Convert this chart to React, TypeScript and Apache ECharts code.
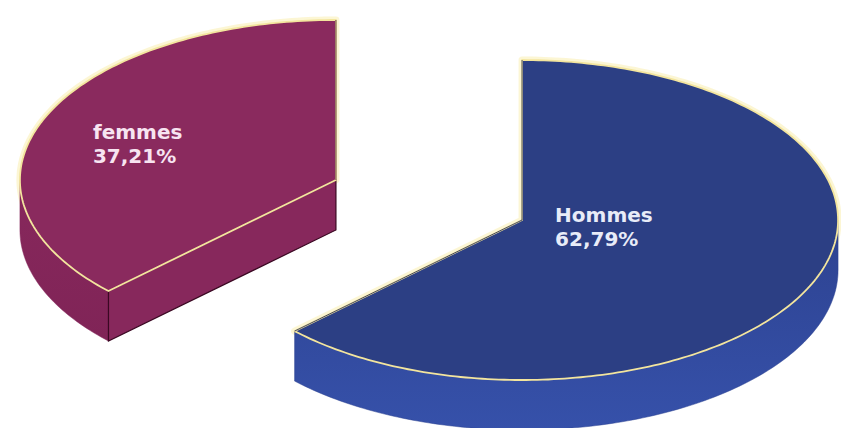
import React, { useEffect, useRef } from 'react';
import * as echarts from 'echarts';

// ---- data ----
const categories: string[] = ['Hommes', 'femmes'];
const values: number[] = [62.79, 37.21];

// ---- styles ----
const topColors = ['#2C3F84', '#8A2A5E'];
const sideTopColors = ['#2D4290', '#87285C'];
const sideBottomColors = ['#3651AA', '#802457'];
const edgeColors = ['#1B2455', '#3A0822'];
const labelColors = ['#E8ECF8', '#F7E4F1'];
const OUTLINE = '#F3E59E';
const GLOW = 'rgba(250, 238, 170, 0.5)';

// ---- layout ----
const CX = 429;
const CY = 200;
const RX = 316;
const RY = 160;
const DEPTH = 50;
const EXPLODE = 0.32;
const LABEL_OFFSET = [
  [33, -17],
  [-243, -60],
];

const RAD = Math.PI / 180;

function pt(cx: number, cy: number, deg: number, r = 1): [number, number] {
  const a = deg * RAD;
  return [cx + RX * r * Math.sin(a), cy - RY * r * Math.cos(a)];
}

function arcPoints(cx: number, cy: number, a0: number, a1: number, dy = 0): number[][] {
  const pts: number[][] = [];
  const n = Math.max(2, Math.ceil(Math.abs(a1 - a0)));
  for (let i = 0; i <= n; i++) {
    const a = a0 + ((a1 - a0) * i) / n;
    const p = pt(cx, cy, a);
    pts.push([p[0], p[1] + dy]);
  }
  return pts;
}

function fmt(v: number): string {
  return v.toFixed(2).replace('.', ',') + '%';
}

export default function App() {
  const ref = useRef<HTMLDivElement>(null);

  useEffect(() => {
    if (!ref.current) return;
    const chart = echarts.init(ref.current, undefined, { renderer: 'svg' });
    const total = values.reduce((a, b) => a + b, 0);

    const renderItem = (params: any, api: any) => {
      const i = params.dataIndex;
      let start = 0;
      for (let j = 0; j < i; j++) start += (values[j] / total) * 360;
      const v = api.value(0) as number;
      const end = start + (v / total) * 360;
      const mid = (start + end) / 2;
      const off = pt(0, 0, mid, EXPLODE);
      const cx = CX + off[0];
      const cy = CY + off[1];
      const children: any[] = [];

      const topPts = [[cx, cy], ...arcPoints(cx, cy, start, end)];

      // glow around top face
      children.push({
        type: 'polygon',
        shape: { points: topPts },
        style: { fill: 'none', stroke: GLOW, lineWidth: 7, lineJoin: 'round' },
      });

      const sideFill = new echarts.graphic.LinearGradient(0, 0, 0, 1, [
        { offset: 0, color: sideTopColors[i] },
        { offset: 1, color: sideBottomColors[i] },
      ]);

      // outer curved side (front half only)
      const s0 = Math.max(start, 90);
      const s1 = Math.min(end, 270);
      if (s1 > s0) {
        const upper = arcPoints(cx, cy, s0, s1);
        const lower = arcPoints(cx, cy, s1, s0, DEPTH);
        children.push({
          type: 'polygon',
          shape: { points: upper.concat(lower) },
          style: { fill: sideFill, stroke: sideTopColors[i], lineWidth: 0.5 },
        });
      }

      // radial faces
      const startVisible = Math.sin(start * RAD) < -1e-6;
      const endVisible = Math.sin(end * RAD) > 1e-6;
      const pStart = pt(cx, cy, start);
      const pEnd = pt(cx, cy, end);
      if (startVisible) {
        const p = pStart;
        children.push({
          type: 'polygon',
          shape: { points: [[cx, cy], p, [p[0], p[1] + DEPTH], [cx, cy + DEPTH]] },
          style: { fill: sideTopColors[i], stroke: edgeColors[i], lineWidth: 1.2 },
        });
      }
      if (endVisible) {
        const p = pEnd;
        children.push({
          type: 'polygon',
          shape: { points: [[cx, cy], p, [p[0], p[1] + DEPTH], [cx, cy + DEPTH]] },
          style: { fill: sideTopColors[i], stroke: edgeColors[i], lineWidth: 1.2 },
        });
      }

      // top face
      children.push({
        type: 'polygon',
        shape: { points: topPts },
        style: { fill: topColors[i], stroke: OUTLINE, lineWidth: 1.8, lineJoin: 'round' },
      });

      // dark lines on back radial edges
      if (!startVisible) {
        children.push({
          type: 'line',
          shape: { x1: cx, y1: cy, x2: pStart[0], y2: pStart[1] },
          style: { stroke: edgeColors[i], lineWidth: 1, opacity: 0.8 },
        });
      }
      if (!endVisible) {
        children.push({
          type: 'line',
          shape: { x1: cx, y1: cy, x2: pEnd[0], y2: pEnd[1] },
          style: { stroke: edgeColors[i], lineWidth: 1, opacity: 0.8 },
        });
      }

      // label
      children.push({
        type: 'text',
        x: cx + LABEL_OFFSET[i][0],
        y: cy + LABEL_OFFSET[i][1],
        style: {
          text: categories[i] + '\n' + fmt(v),
          fill: labelColors[i],
          fontSize: 20,
          fontWeight: 'bold',
          fontFamily: 'DejaVu Sans',
          lineHeight: 24,
          align: 'left',
          verticalAlign: 'top',
        },
      });

      return { type: 'group', children };
    };

    chart.setOption({
      animation: false,
      backgroundColor: '#ffffff',
      series: [
        {
          type: 'custom',
          coordinateSystem: 'none',
          silent: true,
          data: values.map((v) => [v]),
          renderItem,
        },
      ],
    });
    return () => chart.dispose();
  }, []);

  return (
    <div
      ref={ref}
      style={{ position: 'fixed', left: 0, top: 0, width: 841, height: 428, background: '#fff' }}
    />
  );
}
